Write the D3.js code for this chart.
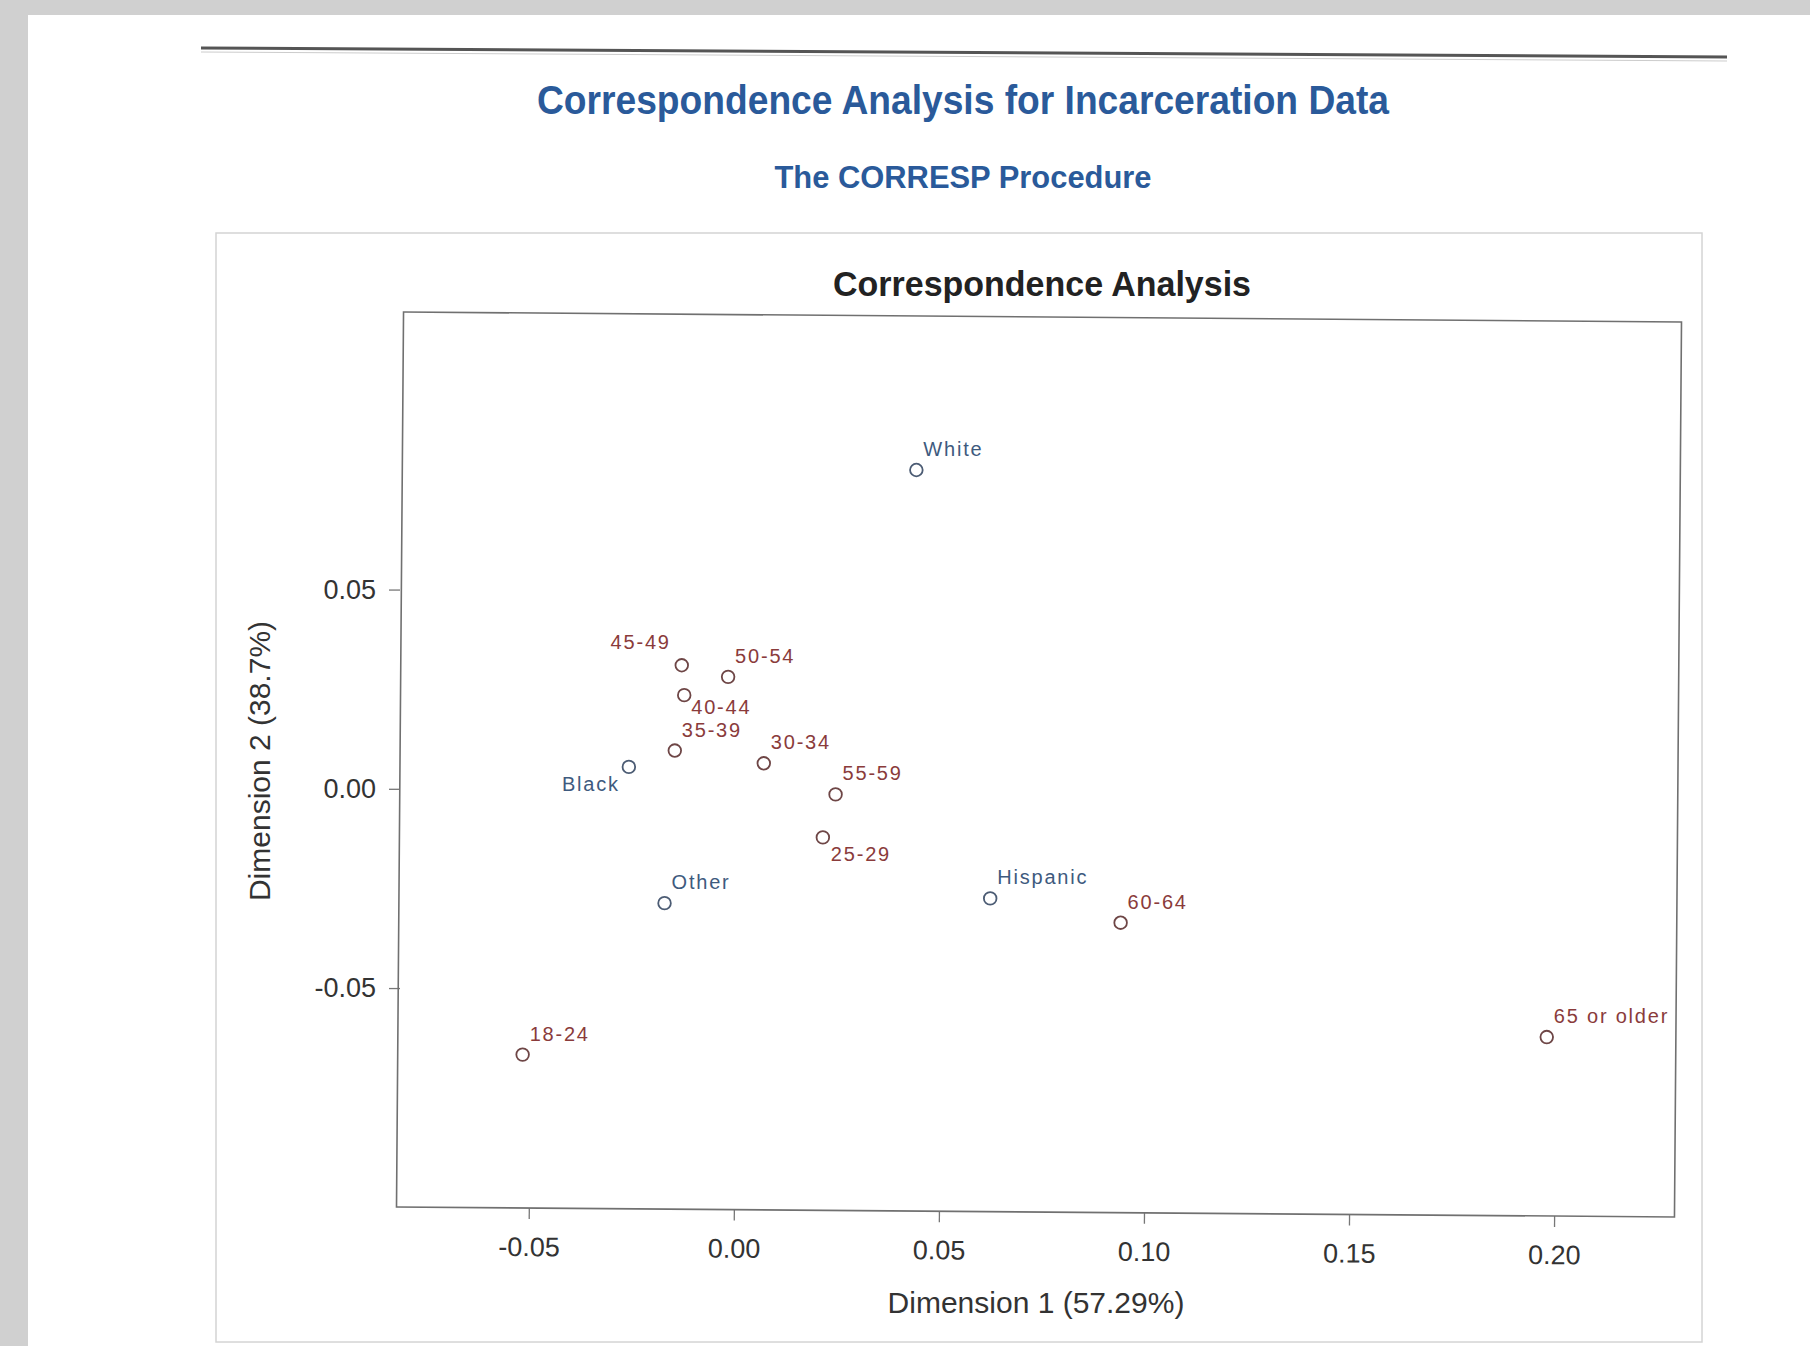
<!DOCTYPE html>
<html>
<head>
<meta charset="utf-8">
<script src="https://cdn.jsdelivr.net/npm/d3@7"></script>
<style>
  body { margin: 0; background: #d0d0d0; }
  text { font-family: "Liberation Sans", Arial, sans-serif; }
</style>
</head>
<body>
<script>
// row points (age groups)
const ageLabels = ['18-24', '25-29', '30-34', '35-39', '40-44', '45-49', '50-54', '55-59', '60-64', '65 or older'];
const ageDim1 = [-0.0515, 0.0217, 0.0073, -0.0144, -0.0121, -0.0127, -0.0014, 0.0248, 0.0943, 0.1982];
const ageDim2 = [-0.0667, -0.0122, 0.0064, 0.0096, 0.0235, 0.0310, 0.0281, -0.0014, -0.0336, -0.0623];

// column points (race)
const raceLabels = ['Black', 'Hispanic', 'Other', 'White'];
const raceDim1 = [-0.0256, 0.0625, -0.0169, 0.0445];
const raceDim2 = [0.0055, -0.0275, -0.0287, 0.0800];

const xTicks = [-0.05, 0.00, 0.05, 0.10, 0.15, 0.20];
const yTicks = [-0.05, 0.00, 0.05];

// where the label sits relative to its marker (default upper right)
const labelSide = { '45-49': 'ul', '40-44': 'lr', '25-29': 'lr2', 'Black': 'll' };

const W = 1810, H = 1346;
const plot = { left: 400, right: 1678, top: 317, bottom: 1212 };
const cx = (plot.left + plot.right) / 2, cy = (plot.top + plot.bottom) / 2;
const tilt = 0.45; // the scanned frame is a little skewed

const svg = d3.select('body').append('svg')
  .attr('width', W)
  .attr('height', H);

// page
svg.append('rect')
  .attr('x', 28).attr('y', 15)
  .attr('width', W - 28).attr('height', H - 15)
  .attr('fill', '#fff');

svg.append('line')
  .attr('x1', 201).attr('y1', 48)
  .attr('x2', 1727).attr('y2', 57)
  .attr('stroke', '#555').attr('stroke-width', 3);
svg.append('line')
  .attr('x1', 201).attr('y1', 52)
  .attr('x2', 1727).attr('y2', 61)
  .attr('stroke', '#ccc').attr('stroke-width', 1);

svg.append('text')
  .attr('x', 963).attr('y', 114)
  .attr('text-anchor', 'middle')
  .attr('textLength', 852).attr('lengthAdjust', 'spacingAndGlyphs')
  .style('font-size', '40px').style('font-weight', 'bold')
  .style('fill', '#2a5a9a')
  .text('Correspondence Analysis for Incarceration Data');

svg.append('text')
  .attr('x', 963).attr('y', 188)
  .attr('text-anchor', 'middle')
  .attr('textLength', 377).attr('lengthAdjust', 'spacingAndGlyphs')
  .style('font-size', '31px').style('font-weight', 'bold')
  .style('fill', '#2a5a9a')
  .text('The CORRESP Procedure');

// graph box
svg.append('rect')
  .attr('x', 216).attr('y', 233)
  .attr('width', 1486).attr('height', 1109)
  .attr('fill', 'none')
  .attr('stroke', '#d4d4d4').attr('stroke-width', 1.5);

svg.append('text')
  .attr('x', 1042).attr('y', 296)
  .attr('text-anchor', 'middle')
  .attr('textLength', 418).attr('lengthAdjust', 'spacingAndGlyphs')
  .style('font-size', '35px').style('font-weight', 'bold')
  .style('fill', '#222')
  .text('Correspondence Analysis');

const x = d3.scaleLinear().domain([-0.0814, 0.2302]).range([plot.left, plot.right]);
const y = d3.scaleLinear().domain([-0.1062, 0.1184]).range([plot.bottom, plot.top]);
const fmt = d => d.toFixed(2);

const xAxis = svg.append('g')
  .attr('transform', 'rotate(' + tilt + ',' + cx + ',' + plot.bottom + ') translate(0,' + plot.bottom + ')')
  .call(d3.axisBottom(x).tickValues(xTicks).tickFormat(fmt).tickSize(11).tickPadding(18));
const yAxis = svg.append('g')
  .attr('transform', 'translate(' + plot.left + ',0)')
  .call(d3.axisLeft(y).tickValues(yTicks).tickFormat(fmt).tickSize(11).tickPadding(13));

[xAxis, yAxis].forEach(a => {
  a.select('.domain').remove();
  a.selectAll('line').attr('stroke', '#777').attr('stroke-width', 1.3);
  a.selectAll('text')
    .style('font-family', '"Liberation Sans", Arial, sans-serif')
    .style('font-size', '27px')
    .style('fill', '#333');
});

svg.append('rect')
  .attr('transform', 'rotate(' + tilt + ',' + cx + ',' + cy + ')')
  .attr('x', plot.left).attr('y', plot.top)
  .attr('width', plot.right - plot.left).attr('height', plot.bottom - plot.top)
  .attr('fill', 'none')
  .attr('stroke', '#707070').attr('stroke-width', 1.6);

svg.append('text')
  .attr('x', 1036).attr('y', 1313)
  .attr('text-anchor', 'middle')
  .style('font-size', '30px').style('fill', '#333')
  .text('Dimension 1 (57.29%)');

svg.append('text')
  .attr('transform', 'translate(270,761) rotate(-90)')
  .attr('text-anchor', 'middle')
  .style('font-size', '30px').style('fill', '#333')
  .text('Dimension 2 (38.7%)');

const ages = ageLabels.map((name, i) => ({ name, d1: ageDim1[i], d2: ageDim2[i], type: 'age' }));
const races = raceLabels.map((name, i) => ({ name, d1: raceDim1[i], d2: raceDim2[i], type: 'race' }));
const points = ages.concat(races);

const markerColor = { age: '#6e4646', race: '#4c5c74' };
const labelColor = { age: '#8a3b3b', race: '#3e5a7e' };

const pts = svg.append('g');

pts.selectAll('.pt')
  .data(points)
  .enter().append('circle')
  .attr('class', 'pt')
  .attr('cx', d => x(d.d1))
  .attr('cy', d => y(d.d2))
  .attr('r', 6.3)
  .attr('fill', 'none')
  .attr('stroke', d => markerColor[d.type])
  .attr('stroke-width', 1.8);

const offs = {
  ur: { dx: 7, dy: -14, anchor: 'start' },
  ul: { dx: -11, dy: -16, anchor: 'end' },
  lr: { dx: 7, dy: 19, anchor: 'start' },
  lr2: { dx: 8, dy: 24, anchor: 'start' },
  ll: { dx: -9, dy: 24, anchor: 'end' },
};

pts.selectAll('.lbl')
  .data(points)
  .enter().append('text')
  .attr('class', 'lbl')
  .each(function (d) {
    const o = offs[labelSide[d.name] || 'ur'];
    d3.select(this)
      .attr('x', x(d.d1) + o.dx)
      .attr('y', y(d.d2) + o.dy)
      .attr('text-anchor', o.anchor);
  })
  .style('font-size', '20px')
  .style('letter-spacing', '1.8px')
  .style('fill', d => labelColor[d.type])
  .text(d => d.name);
</script>
</body>
</html>
